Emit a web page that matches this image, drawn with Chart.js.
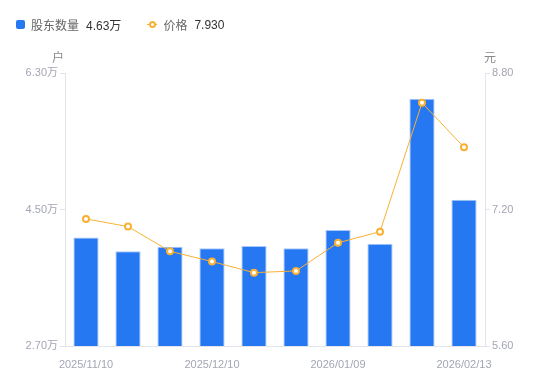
<!DOCTYPE html>
<html>
<head>
<meta charset="utf-8">
<script src="https://cdn.jsdelivr.net/npm/chart.js@4/dist/chart.umd.min.js"></script>
<style>
  html, body { margin: 0; padding: 0; background: #fff; }
  #wrap { position: relative; width: 550px; height: 381px; }
  #legend { position: absolute; left: 16px; top: 16px; font: 12px "Liberation Sans", "Noto Sans CJK SC", sans-serif; color: #666; display: flex; align-items: center; }
  .item { display: flex; align-items: center; margin-right: 26px; }
  .sq { width: 9px; height: 9px; border-radius: 2px; background: #2677f2; margin-right: 6px; }
  .ln { position: relative; width: 10px; height: 9px; margin-right: 6px; }
  .ln:before { content: ''; position: absolute; left: 0; right: 0; top: 4px; height: 1px; background: #f8b133; }
  .ln:after { content: ''; position: absolute; left: 2px; top: 1px; width: 3px; height: 3px; border: 2px solid #f8b133; border-radius: 50%; background: #fff; }
  .val { color: #333; margin-left: 7px; }
</style>
</head>
<body>
<div id="wrap">
  <canvas id="chart" width="550" height="381"></canvas>
  <div id="legend">
    <div class="item"><span class="sq"></span>股东数量<span class="val">4.63万</span></div>
    <div class="item"><span class="ln"></span>价格<span class="val">7.930</span></div>
  </div>
</div>
<script>
const dates = ['2025/11/10', '2025/11/20', '2025/11/28', '2025/12/10', '2025/12/19', '2025/12/31', '2026/01/09', '2026/01/20', '2026/01/30', '2026/02/13'];
const holders = [4.13, 3.95, 4.01, 3.99, 4.02, 3.99, 4.23, 4.05, 5.96, 4.63]; // 万户
const prices = [7.09, 7.00, 6.71, 6.59, 6.46, 6.48, 6.81, 6.94, 8.45, 7.93];
const leftTicks = [2.70, 4.50, 6.30];
const rightTicks = [5.60, 7.20, 8.80];
const shownLabels = [0, 3, 6, 9];

const FONT = '"Liberation Sans", "Noto Sans CJK SC", sans-serif';
const tickColor = '#a3a6b4';
const axisColor = '#e3e4ea';

// 轴标题 户 / 元
const unitTitles = {
    id: 'unitTitles',
    afterDraw(chart) {
        const c = chart.ctx;
        const a = chart.chartArea;
        c.save();
        c.font = '12px ' + FONT;
        c.fillStyle = '#888';
        c.textBaseline = 'middle';
        c.textAlign = 'center';
        c.fillText('户', a.left - 7, a.top - 14);
        c.fillText('元', a.right + 5, a.top - 14);
        c.restore();
    }
};

new Chart(document.getElementById('chart'), {
    data: {
        labels: dates,
        datasets: [
            {
                type: 'line',
                label: '价格',
                data: prices,
                yAxisID: 'y1',
                borderColor: '#f8b133',
                borderWidth: 1,
                pointRadius: 3,
                pointBorderWidth: 2,
                pointBackgroundColor: '#fff',
                pointBorderColor: '#f8b133',
                tension: 0,
                order: 0
            },
            {
                type: 'bar',
                label: '股东数量',
                data: holders,
                yAxisID: 'y',
                backgroundColor: '#2677f2',
                borderColor: '#a9c8fa',
                borderWidth: 1,
                categoryPercentage: 1,
                barPercentage: 0.6,
                order: 1
            }
        ]
    },
    options: {
        responsive: false,
        animation: false,
        layout: { padding: { top: 73, left: 0, right: 0, bottom: 0 } },
        plugins: {
            legend: { display: false },
            tooltip: { enabled: false }
        },
        scales: {
            x: {
                grid: { display: false },
                border: { display: true, color: axisColor },
                ticks: {
                    autoSkip: false,
                    maxRotation: 0,
                    padding: 4,
                    color: tickColor,
                    font: { size: 11, family: FONT },
                    callback: (v, i) => shownLabels.includes(i) ? dates[i] : ''
                },
                afterFit: s => { s.height = 35; }
            },
            y: {
                position: 'left',
                min: 2.70,
                max: 6.30,
                afterBuildTicks: s => { s.ticks = leftTicks.map(v => ({ value: v })); },
                grid: { drawOnChartArea: false, tickLength: 5, color: axisColor },
                border: { display: true, color: axisColor },
                ticks: {
                    padding: 2,
                    color: tickColor,
                    font: { size: 11, family: FONT },
                    callback: v => v.toFixed(2) + '万'
                },
                afterFit: s => { s.width = 65; }
            },
            y1: {
                position: 'right',
                min: 5.60,
                max: 8.80,
                afterBuildTicks: s => { s.ticks = rightTicks.map(v => ({ value: v })); },
                grid: { drawOnChartArea: false, tickLength: 5, color: axisColor },
                border: { display: true, color: axisColor },
                ticks: {
                    padding: 2,
                    color: tickColor,
                    font: { size: 11, family: FONT },
                    callback: v => v.toFixed(2)
                },
                afterFit: s => { s.width = 65; }
            }
        }
    },
    plugins: [unitTitles]
});
</script>
</body>
</html>
